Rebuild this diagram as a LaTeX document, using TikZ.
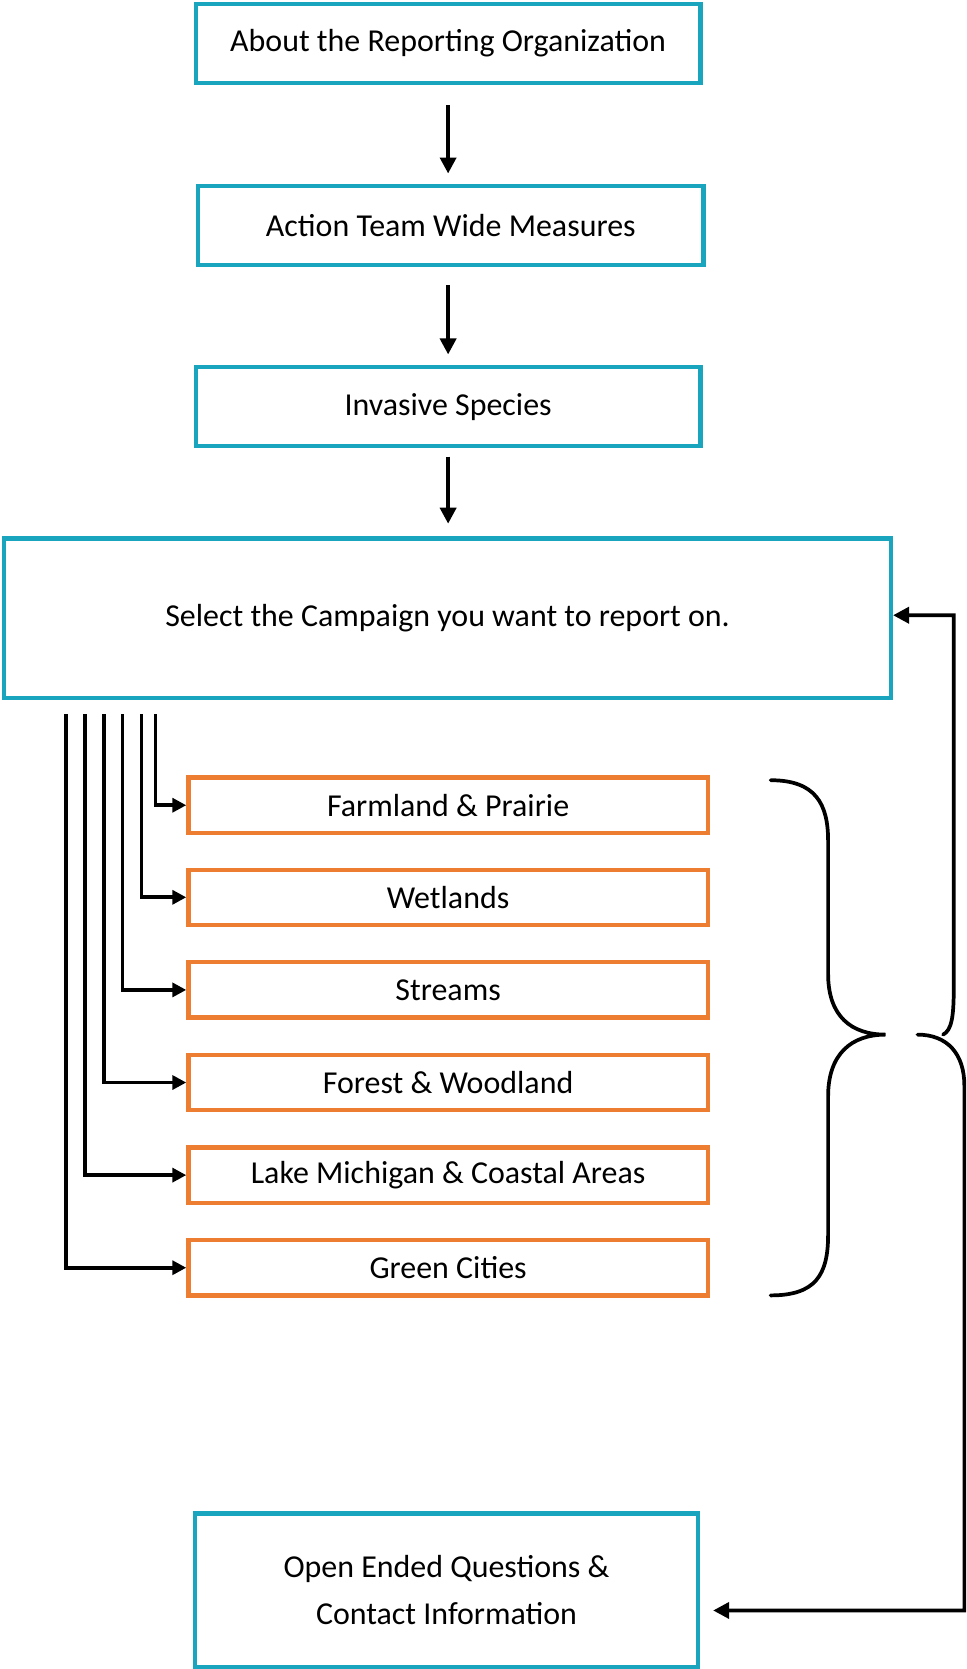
\documentclass[tikz,border=0pt]{standalone}
\usepackage{fontspec}
\setmainfont{Carlito}
\usetikzlibrary{arrows.meta}
\definecolor{tealc}{HTML}{1AA5BE}
\definecolor{orng}{HTML}{ED7D31}
\begin{document}
\begin{tikzpicture}[x=1pt,y=-1pt,
  tbox/.style={draw=tealc, line width=4pt, inner sep=0pt, align=center,
    font=\fontsize{30}{44}\selectfont},
  obox/.style={draw=orng, line width=4pt, inner sep=0pt, minimum width=488pt,
    minimum height=52pt, font=\fontsize{30}{34}\selectfont},
  arr/.style={line width=3.5pt, -{Triangle[width=15pt,length=15pt]}},
  conn/.style={line width=3.5pt, -{Triangle[width=13pt,length=13pt]}},
  bracestyle/.style={line width=3.5pt, line cap=round}]
\useasboundingbox (0,0) rectangle (908,1568);
% main boxes
\node[tbox, minimum width=474pt, minimum height=74pt] (b1) at (421,41) {About the Reporting Organization};
\node[tbox, minimum width=475pt, minimum height=74pt] (b2) at (423.5,212) {Action Team Wide Measures};
\node[tbox, minimum width=474pt, minimum height=74pt] (b3) at (421,382) {Invasive Species};
\node[tbox, minimum width=833pt, minimum height=150pt] (sel) at (420.5,581) {Select the Campaign you want to report on.};
\node[tbox, minimum width=473pt, minimum height=144pt] (open) at (419.5,1494) {Open Ended Questions \&\\Contact Information};
% campaign boxes
\node[obox] (farm) at (421,756.5) {Farmland \& Prairie};
\node[obox] (wet) at (421,843) {Wetlands};
\node[obox] (str) at (421,930) {Streams};
\node[obox] (for) at (421,1017) {Forest \& Woodland};
\node[obox] (lake) at (421,1104) {Lake Michigan \& Coastal Areas};
\node[obox] (green) at (421,1191) {Green Cities};
% vertical arrows
\draw[arr, shorten <=19pt, shorten >=10pt] (b1.south) -- (b1.south |- b2.north);
\draw[arr, shorten <=17pt, shorten >=10pt] (b2.south -| b1.south) -- (b3.north);
\draw[arr, shorten <=8pt, shorten >=12pt] (b3.south) -- (b3.south |- sel.north);
% branch connectors
\coordinate (c1) at (146,671);
\coordinate (c2) at (133,671);
\coordinate (c3) at (115,671);
\coordinate (c4) at (98,671);
\coordinate (c5) at (80,671);
\coordinate (c6) at (62,671);
\draw[conn] (c1) |- (farm.west);
\draw[conn] (c2) |- (wet.west);
\draw[conn] (c3) |- (str.west);
\draw[conn] (c4) |- (for.west);
\draw[conn] (c5) |- (lake.west);
\draw[conn] (c6) |- (green.west);
% brace
\draw[bracestyle] (724,733) .. controls (766,733) and (778,755) .. (778,790)
  -- (778,915) .. controls (778,955) and (800,972) .. (832,972)
  .. controls (800,972) and (778,990) .. (778,1030)
  -- (778,1160) .. controls (778,1198) and (766,1217) .. (724,1217);
% feedback connectors
\coordinate (tu) at (886,972);
\coordinate (tl) at (862,972);
\draw[arr, line cap=round] (tu) .. controls (894,968) and (896,955) .. (896,930)
  |- ([yshift=3pt]sel.east);
\draw[arr, line cap=round, shorten >=12pt] (tl) .. controls (890,972) and (906,990) .. (906,1020)
  |- ([yshift=-19pt]open.east);
\end{tikzpicture}
\end{document}
